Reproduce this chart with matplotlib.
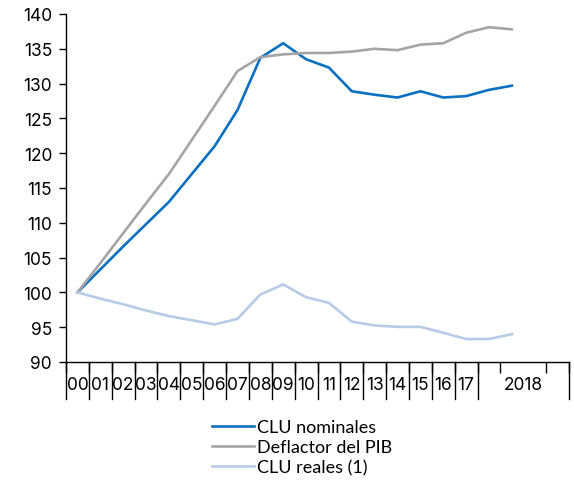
import numpy as np
import matplotlib.pyplot as plt
import matplotlib.transforms as mtransforms

# categorías (años 2000-2017 y trimestres de 2018)
labels = ['00', '01', '02', '03', '04', '05', '06', '07', '08', '09', '10',
          '11', '12', '13', '14', '15', '16', '17']
grupo_2018 = '2018'
n_cat = 22

clu_nominales = [100, 103.3, 106.6, 109.8, 113.0, 117.0, 121.0, 126.2, 133.7,
                 135.8, 133.5, 132.3, 128.9, 128.4, 128.0, 128.9, 128.0, 128.2,
                 129.1, 129.7]
deflactor_pib = [100, 104.2, 108.5, 112.8, 117.0, 121.9, 126.8, 131.8, 133.8,
                 134.2, 134.4, 134.4, 134.6, 135.0, 134.8, 135.6, 135.8, 137.3,
                 138.1, 137.8]
clu_reales = [100, 99.1, 98.3, 97.4, 96.6, 96.0, 95.4, 96.2, 99.7, 101.15, 99.3,
              98.5, 95.8, 95.25, 95.05, 95.05, 94.2, 93.3, 93.3, 94.0]

fig = plt.figure(figsize=(5.74, 4.85), dpi=100)
ax = fig.add_axes([66 / 574, 1 - 363 / 485, (569 - 66) / 574, (363 - 15) / 485])

x = np.arange(len(clu_nominales))
ax.plot(x, clu_nominales, color='#0a70c0', lw=1.9, label='CLU nominales')
ax.plot(x, deflactor_pib, color='#a5a5a5', lw=1.9, label='Deflactor del PIB')
ax.plot(x, clu_reales, color='#b7cbe6', lw=1.9, label='CLU reales (1)')

ax.set_xlim(-0.5, n_cat - 0.5)
ax.set_ylim(90, 140)
ax.set_yticks(np.arange(90, 141, 5))

for s in ['top', 'right']:
    ax.spines[s].set_visible(False)
for s in ['left', 'bottom']:
    ax.spines[s].set_color('black')
    ax.spines[s].set_linewidth(1.0)

tick_font = dict(family='Inter', size=12.5)
ax.tick_params(axis='y', direction='out', length=5, width=1, pad=5)
for t in ax.get_yticklabels():
    t.set_fontfamily('Inter')
    t.set_fontsize(12.5)

# etiquetas de categoría
centros = list(range(len(labels))) + [(len(labels) + n_cat - 1) / 2]
ax.set_xticks(centros)
ax.set_xticklabels(labels + [grupo_2018], **tick_font)
ax.tick_params(axis='x', which='major', length=0, pad=10)
ax.set_xticks(np.arange(-0.5, n_cat, 1), minor=True)
ax.tick_params(axis='x', which='minor', direction='out', length=8, width=1)

# separadores largos entre grupos
trans = mtransforms.blended_transform_factory(ax.transData, ax.transAxes)
for b in list(np.arange(-0.5, len(labels), 1)) + [n_cat - 0.5]:
    ax.plot([b, b], [0, -0.106], color='black', lw=1, transform=trans,
            clip_on=False)

fig.legend(loc='upper left', bbox_to_anchor=(212 / 574, 1 - 420 / 485),
           frameon=False, prop=dict(family='Lato', size=13),
           handlelength=2.35, handletextpad=0.15, labelspacing=0.22,
           borderpad=0, borderaxespad=0)

fig.savefig('out.png', dpi=100)
